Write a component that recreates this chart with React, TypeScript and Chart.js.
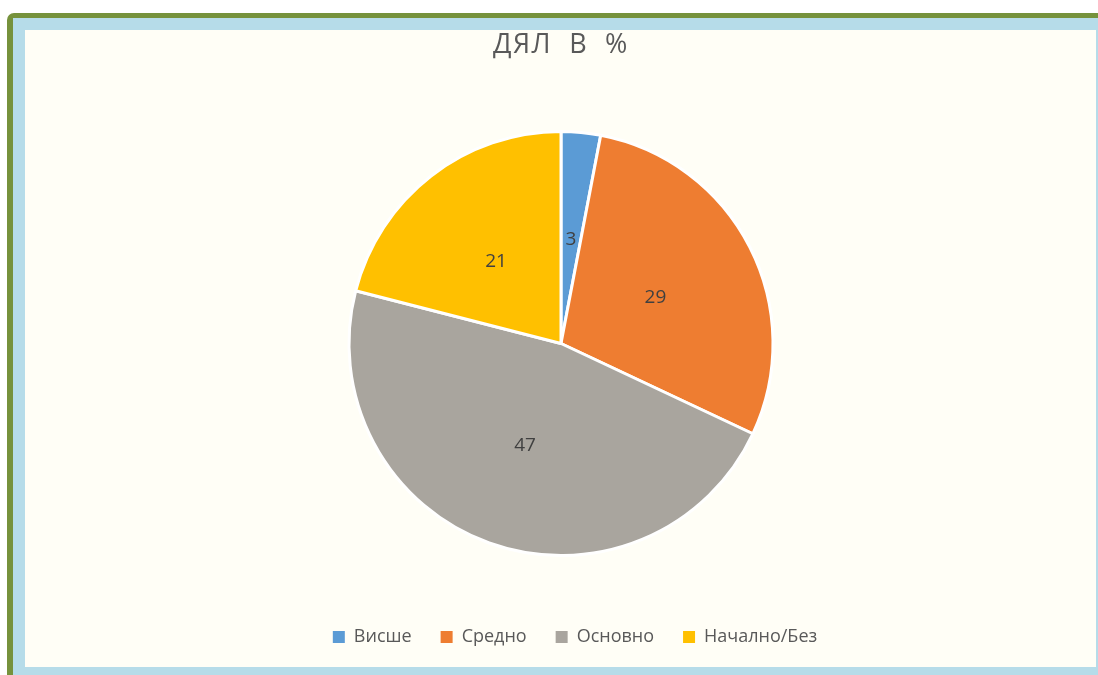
import React, { useEffect, useRef } from "react";
import { Chart, registerables, DoughnutController } from "chart.js";

Chart.register(...registerables);

const categories = ["Висше", "Средно", "Основно", "Начално/Без"];
const shares = [3, 29, 47, 21];
const sliceColors = ["#5B9BD5", "#EE7D31", "#A9A59E", "#FFC000"];
const titleText = "ДЯЛ  В  %";

const labelPlugin = {
  id: "sliceLabels",
  afterDatasetsDraw(chart: any) {
    const ctx = chart.ctx;
    const meta = chart.getDatasetMeta(0);
    ctx.save();
    ctx.font = "19px 'Open Sans'";
    ctx.fillStyle = "#404040";
    ctx.textAlign = "center";
    ctx.textBaseline = "middle";
    meta.data.forEach((arc: any, i: number) => {
      const p = arc.tooltipPosition();
      ctx.fillText(String(chart.data.datasets[0].data[i]), p.x, p.y + 2);
    });
    ctx.restore();
  },
};

const titleSpacingPlugin = {
  id: "titleSpacing",
  afterLayout(chart: any) {
    const t = chart.titleBlock;
    if (t && !t.__patched) {
      const orig = t.draw.bind(t);
      t.draw = (...args: any[]) => {
        const ctx = chart.ctx;
        ctx.save();
        (ctx as any).letterSpacing = "1.5px";
        orig(...args);
        ctx.restore();
      };
      t.__patched = true;
    }
  },
};

export default function App() {
  const ref = useRef<HTMLCanvasElement>(null);
  useEffect(() => {
    if (!ref.current) return;
    const baseGen = (DoughnutController as any).overrides.plugins.legend.labels.generateLabels;
    const chart = new Chart(ref.current, {
      type: "pie",
      data: {
        labels: categories,
        datasets: [
          {
            data: shares,
            backgroundColor: sliceColors,
            borderColor: "#ffffff",
            borderWidth: 3,
            hoverOffset: 0,
          },
        ],
      },
      options: {
        responsive: false,
        animation: false,
        layout: { padding: { top: 28.8, bottom: 19, left: 150, right: 98 } },
        plugins: {
          tooltip: { enabled: false },
          title: {
            display: true,
            text: titleText,
            fullSize: false,
            color: "#595959",
            font: { family: "'Open Sans'", size: 27, weight: "normal", lineHeight: 1.2 },
            padding: { top: 0, bottom: 68.8 },
          },
          subtitle: {
            display: true,
            text: " ",
            position: "right",
            fullSize: false,
            font: { size: 10, lineHeight: 1.2 },
            padding: 8,
          },
          legend: {
            position: "bottom",
            title: {
              display: true,
              text: " ",
              font: { size: 10, lineHeight: 1.2 },
              padding: { top: 0, bottom: 30 },
            },
            labels: {
              boxWidth: 12,
              boxHeight: 12,
              padding: 29,
              color: "#595959",
              font: { family: "'Open Sans'", size: 18 },
              generateLabels: (c: any) =>
                baseGen(c).map((l: any) => ({ ...l, lineWidth: 0, strokeStyle: "rgba(0,0,0,0)" })),
            },
          },
        },
      },
      plugins: [labelPlugin, titleSpacingPlugin],
    });
    return () => chart.destroy();
  }, []);

  return (
    <div
      style={{
        position: "fixed",
        left: 0,
        top: 0,
        width: 1098,
        height: 675,
        overflow: "hidden",
        background: "#ffffff",
      }}
    >
      <div
        style={{
          position: "absolute",
          left: 7,
          top: 13,
          width: 1120,
          height: 700,
          background: "#76923C",
          borderRadius: 7,
        }}
      />
      <div
        style={{
          position: "absolute",
          left: 13,
          top: 18,
          width: 1110,
          height: 700,
          background: "#B6DCE9",
        }}
      />
      <div
        style={{
          position: "absolute",
          left: 25,
          top: 30,
          width: 1071,
          height: 637,
          background: "#FFFEF6",
        }}
      />
      <canvas
        ref={ref}
        width={1098}
        height={675}
        style={{ position: "absolute", left: 0, top: 0 }}
      />
    </div>
  );
}
